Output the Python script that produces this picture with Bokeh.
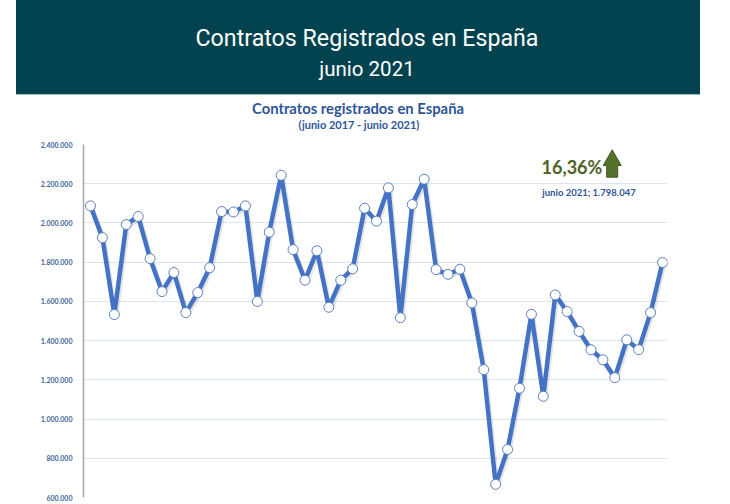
from bokeh.plotting import figure
from bokeh.models import Range1d, FixedTicker, Div, Label
from bokeh.layouts import column
from bokeh.embed import file_html
from bokeh.resources import INLINE

# ---- data (junio 2017 - junio 2021) ----
contratos = [2087000, 1925000, 1533000, 1992000, 2033000, 1818000, 1650000, 1747000,
             1543000, 1645000, 1772000, 2058000, 2056000, 2087000, 1600000, 1953000,
             2243000, 1864000, 1708000, 1858000, 1570000, 1708000, 1766000, 2075000,
             2009000, 2179000, 1517000, 2094000, 2223000, 1762000, 1738000, 1764000,
             1592000, 1252000, 667000, 845000, 1157000, 1534000, 1116000, 1633000,
             1548000, 1447000, 1353000, 1302000, 1211000, 1404000, 1354000, 1543000,
             1798047]
y_ticks = [600000, 800000, 1000000, 1200000, 1400000, 1600000, 1800000, 2000000,
           2200000, 2400000]
y_tick_labels = ["600.000", "800.000", "1.000.000", "1.200.000", "1.400.000",
                 "1.600.000", "1.800.000", "2.000.000", "2.200.000", "2.400.000"]
variacion = "16,36%"
ultimo = "junio 2021; 1.798.047"

# ---- geometry ----
W = 714
FRAME_L, FRAME_R = 83, 47
PX_X = 11.917                      # pixels per month
X0 = -7 / PX_X
X1 = len(contratos) - 1 + 5 / PX_X
Y0, Y1 = 600000, 2400000
FRAME_H = 353
PX_Y = (Y1 - Y0) / FRAME_H          # value per pixel

def dx(px):
    return px / PX_X

def dy(px):
    return px * PX_Y

xs = list(range(len(contratos)))

header = Div(width=W, height=136, margin=0, text="""
<div style="position:relative;width:714px;height:136px;">
 <div style="position:absolute;left:16px;top:0;width:684px;height:95px;background:#02434F;
      border-bottom:1px solid #9DB9C1;"></div>
 <div style="position:absolute;left:10px;width:714px;top:24px;height:28px;line-height:28px;text-align:center;
      color:#ffffff;font-family:Roboto;font-size:23.2px;">Contratos Registrados en Espa&ntilde;a</div>
 <div style="position:absolute;left:10px;width:714px;top:57px;height:24px;line-height:24px;text-align:center;
      color:#ffffff;font-family:Roboto;font-size:20.5px;">junio 2021</div>
 <div style="position:absolute;left:1px;width:714px;top:99px;height:18px;line-height:18px;text-align:center;
      color:#2F5597;font-family:Lato;font-weight:bold;font-size:14.8px;">Contratos registrados en Espa&ntilde;a</div>
 <div style="position:absolute;left:2px;width:714px;top:118px;height:13px;line-height:13px;text-align:center;
      color:#2F5597;font-family:Lato;font-weight:bold;font-size:11px;">(junio 2017 - junio 2021)</div>
</div>
""")

p = figure(width=W, height=368, x_range=Range1d(X0, X1), y_range=Range1d(Y0, Y1),
           output_backend="svg", toolbar_location=None, x_axis_location=None,
           min_border_left=FRAME_L, min_border_right=FRAME_R, min_border_top=8,
           min_border_bottom=7, outline_line_color=None, margin=0)

p.yaxis.ticker = FixedTicker(ticks=y_ticks)
p.yaxis.major_label_overrides = {t: l for t, l in zip(y_ticks, y_tick_labels)}
p.yaxis.axis_line_color = "#A6A6A6"
p.yaxis.axis_line_width = 1.5
p.yaxis.major_tick_line_color = None
p.yaxis.minor_tick_line_color = None
p.yaxis.major_label_standoff = 5
p.yaxis.major_label_text_font = "Lato"
p.yaxis.major_label_text_font_style = "bold"
p.yaxis.major_label_text_font_size = "7px"
p.yaxis.major_label_text_color = "#44689C"

p.xgrid.visible = False
p.ygrid.ticker = FixedTicker(ticks=y_ticks[:-1])
p.ygrid.grid_line_color = "#DCE4F0"
p.ygrid.grid_line_width = 1

# shadow + line + markers
p.line([x + dx(1.5) for x in xs], [v - dy(2) for v in contratos], line_color="#000000",
       line_alpha=0.10, line_width=5)
p.line(xs, contratos, line_color="#4472C4", line_width=4.5, line_join="round")
p.scatter(xs, contratos, size=10, fill_color="#ffffff", line_color="#5B7FBF", line_width=1)

# annotation relative to the last point
last_x = xs[-1]
p.add_layout(Label(x=last_x - dx(90.6), y=Y1 - dy(22.7), text=variacion, text_align="center",
                   text_baseline="middle", text_font="Lato", text_font_style="bold",
                   text_font_size="18px", text_color="#4F6228"))
p.add_layout(Label(x=last_x - dx(73.5), y=Y1 - dy(48.3), text=ultimo, text_align="center",
                   text_baseline="middle", text_font="Lato", text_font_style="bold",
                   text_font_size="9.5px", text_color="#2F5597"))

ax = last_x - dx(50.3)
ay_top = Y1 - dy(5.3)
arrow_x = [ax, ax + dx(9), ax + dx(5.5), ax + dx(5.5), ax - dx(5.5), ax - dx(5.5), ax - dx(9)]
arrow_y = [ay_top, ay_top - dy(15.7), ay_top - dy(15.7), ay_top - dy(27.4), ay_top - dy(27.4),
           ay_top - dy(15.7), ay_top - dy(15.7)]
p.patch(arrow_x, arrow_y, fill_color="#55722C", line_color="#44591F", line_width=1)

layout = column(header, p, spacing=0, margin=0)
open("out.html", "w").write(file_html(layout, INLINE))
